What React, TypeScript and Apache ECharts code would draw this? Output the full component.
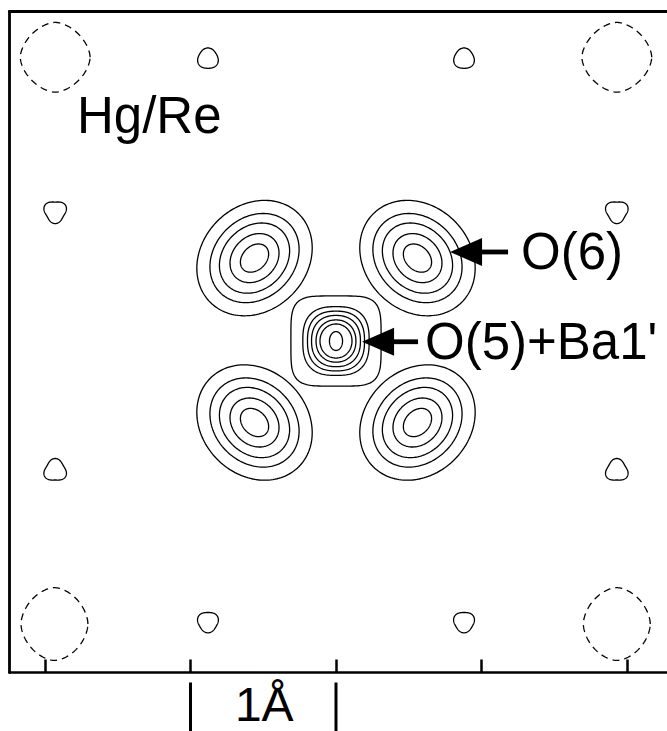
import { useEffect, useRef } from 'react';
import * as echarts from 'echarts';

// ---- axes (Å) ----
const xExtent = [-2.244, 2.275];
const yExtent = [-2.278, 2.266];
const axisTicks = [-2, -1, 0, 1, 2];
const scaleBar = [-1, 0];
const scaleBarLabel = '1Å';
const mapLabel = 'Hg/Re';

// ---- O(6) peaks: centres (Å), tilt of major axis (deg), contour half-axes (Å) ----
const o6Centers = [[-0.56, 0.57], [0.56, 0.57], [-0.56, -0.56], [0.56, -0.56]];
const o6Tilt = [45, -45, -45, 45];
const o6Major = [0.43, 0.335, 0.265, 0.185, 0.11];
const o6Minor = [0.36, 0.275, 0.215, 0.15, 0.082];

// ---- O(5)+Ba1' peak ----
const o5Center = [0, 0];
const o5RadiusX = [0.31, 0.228, 0.196, 0.168, 0.137, 0.11, 0.045];
const o5RadiusY = [0.31, 0.236, 0.205, 0.176, 0.145, 0.117, 0.065];
const o5Squareness = [4.5, 2.7, 2.5, 2.3, 2.15, 2.05, 2];

// ---- weak positive peaks ----
const weakCenters = [[-0.88, 1.94], [0.88, 1.94], [-1.93, 0.89], [1.93, 0.89], [-1.93, -0.89], [1.93, -0.89], [-0.88, -1.93], [0.88, -1.93]];
const weakRadius = [0.07, 0.07, 0.074, 0.074, 0.074, 0.074, 0.07, 0.07];
const weakLobe = [0.06, 0.06, 0.12, 0.12, 0.12, 0.12, 0.08, 0.08];
const weakPoint = [90, 90, -90, -90, 90, 90, -90, -90];

// ---- negative (dashed) contours ----
const negCenters = [[-1.93, 1.95], [1.93, 1.95], [-1.935, -1.945], [1.93, -1.945]];
const negRadiusX = [0.24, 0.24, 0.23, 0.23];
const negRadiusY = [0.24, 0.24, 0.25, 0.25];
const negSquareness = [1.7, 1.7, 1.75, 1.75];

// ---- labelled arrows: tip (Å) ----
const arrowTips = [[0.784, 0.612], [0.179, -0.005]];
const arrowLabels = ['O(6)', "O(5)+Ba1'"];

const FONT = "'Liberation Sans', Arial, Helvetica, sans-serif";

// contour item: [cx, cy, rx, ry, rotDeg, squareness, lobeK, lobeDeg, dashed]
function buildContours() {
  const out: number[][] = [];
  o6Centers.forEach((c, i) => {
    o6Major.forEach((a, j) => {
      out.push([c[0], c[1], a, o6Minor[j], o6Tilt[i], 2, 0, 0, 0]);
    });
  });
  o5RadiusX.forEach((rx, j) => {
    out.push([o5Center[0], o5Center[1], rx, o5RadiusY[j], 0, o5Squareness[j], 0, 0, 0]);
  });
  weakCenters.forEach((c, i) => {
    out.push([c[0], c[1], weakRadius[i], weakRadius[i], 0, 2, weakLobe[i], weakPoint[i], 0]);
  });
  negCenters.forEach((c, i) => {
    out.push([c[0], c[1], negRadiusX[i], negRadiusY[i], 0, negSquareness[i], 0, 0, 1]);
  });
  return out;
}

export default function App() {
  const ref = useRef<HTMLDivElement>(null);
  useEffect(() => {
    if (!ref.current) return;
    const chart = echarts.init(ref.current, null, { renderer: 'svg' });
    const contours = buildContours();
    const arrowOffsets = [
      { tail: 58, text: 71 },
      { tail: 56, text: 63 },
    ];
    chart.setOption({
      animation: false,
      backgroundColor: '#fff',
      grid: { left: 9.5, top: 11.3, right: 0, bottom: 58.5, outerBoundsMode: 'none', containLabel: false },
      xAxis: [
        {
          type: 'value', min: xExtent[0], max: xExtent[1], position: 'bottom',
          axisLine: { show: true, onZero: false, lineStyle: { color: '#000', width: 2.5 } },
          axisTick: { show: true, inside: true, length: 13, customValues: axisTicks, lineStyle: { color: '#000', width: 2.5 } },
          axisLabel: { show: false },
          splitLine: { show: false },
        },
        {
          type: 'value', min: xExtent[0], max: xExtent[1], position: 'top',
          axisLine: { show: true, onZero: false, lineStyle: { color: '#000', width: 2.8 } },
          axisTick: { show: false }, axisLabel: { show: false }, splitLine: { show: false },
        },
      ],
      yAxis: {
        type: 'value', min: yExtent[0], max: yExtent[1], position: 'left',
        axisLine: { show: true, onZero: false, lineStyle: { color: '#000', width: 2.8 } },
        axisTick: { show: false }, axisLabel: { show: false }, splitLine: { show: false },
      },
      graphic: [
        {
          type: 'text', left: 77, top: 118 - 28,
          style: { text: mapLabel, font: `51px ${FONT}`, fill: '#000' },
          silent: true,
        },
      ],
      series: [
        {
          type: 'custom',
          coordinateSystem: 'cartesian2d',
          xAxisIndex: 0, yAxisIndex: 0,
          silent: true,
          clip: false,
          encode: { x: 0, y: 1 },
          data: contours,
          renderItem: (params: any, api: any) => {
            const cx = api.value(0), cy = api.value(1);
            const rx = api.value(2), ry = api.value(3);
            const rot = (api.value(4) * Math.PI) / 180;
            const n = api.value(5);
            const k = api.value(6);
            const lobe = (api.value(7) * Math.PI) / 180;
            const dashed = api.value(8) > 0;
            const N = 160;
            const pts: number[][] = [];
            const cr = Math.cos(rot), sr = Math.sin(rot);
            const e = 2 / n;
            for (let i = 0; i < N; i++) {
              const t = (i / N) * Math.PI * 2;
              const c = Math.cos(t), s = Math.sin(t);
              let px = rx * Math.sign(c) * Math.pow(Math.abs(c), e);
              let py = ry * Math.sign(s) * Math.pow(Math.abs(s), e);
              const f = 1 + k * Math.cos(3 * (t - lobe));
              px *= f; py *= f;
              const xr = px * cr - py * sr + cx;
              const yr = px * sr + py * cr + cy;
              pts.push(api.coord([xr, yr]));
            }
            return {
              type: 'polygon',
              shape: { points: pts },
              style: {
                fill: 'none', stroke: '#000', lineWidth: 1.3,
                lineDash: dashed ? [7, 5] : null,
              },
              silent: true,
            };
          },
          z: 2,
        },
        {
          type: 'custom',
          coordinateSystem: 'cartesian2d',
          silent: true,
          clip: false,
          encode: { x: 0, y: 1 },
          data: arrowTips.map((t, i) => [t[0], t[1], i]),
          renderItem: (params: any, api: any) => {
            const p = api.coord([api.value(0), api.value(1)]);
            const idx = api.value(2);
            const off = arrowOffsets[idx];
            const headL = 32, headH = 14;
            return {
              type: 'group',
              children: [
                {
                  type: 'polygon',
                  shape: { points: [[p[0], p[1]], [p[0] + headL, p[1] - headH], [p[0] + headL, p[1] + headH]] },
                  style: { fill: '#000' },
                },
                {
                  type: 'rect',
                  shape: { x: p[0] + headL - 2, y: p[1] - 2.4, width: off.tail - headL + 2, height: 4.8 },
                  style: { fill: '#000' },
                },
                {
                  type: 'text',
                  x: p[0] + off.text,
                  y: p[1],
                  style: {
                    text: arrowLabels[idx], font: `51px ${FONT}`, fill: '#000',
                    verticalAlign: 'middle', align: 'left',
                  },
                },
              ],
            };
          },
          z: 3,
        },
        {
          type: 'custom',
          coordinateSystem: 'cartesian2d',
          silent: true,
          clip: false,
          encode: { x: [0, 1] },
          data: [[scaleBar[0], scaleBar[1]]],
          renderItem: (params: any, api: any) => {
            const a = api.coord([api.value(0), yExtent[0]]);
            const b = api.coord([api.value(1), yExtent[0]]);
            const y0 = a[1] + 10;
            const y1 = a[1] + 62;
            return {
              type: 'group',
              children: [
                { type: 'line', shape: { x1: a[0], y1: y0, x2: a[0], y2: y1 }, style: { stroke: '#000', lineWidth: 3 } },
                { type: 'line', shape: { x1: b[0], y1: y0, x2: b[0], y2: y1 }, style: { stroke: '#000', lineWidth: 3 } },
                {
                  type: 'text', x: (a[0] + b[0]) / 2 + 1, y: a[1] + 32,
                  style: { text: scaleBarLabel, font: `48px ${FONT}`, fill: '#000', align: 'center', verticalAlign: 'middle' },
                },
              ],
            };
          },
          z: 3,
        },
      ],
    });
    return () => chart.dispose();
  }, []);
  return <div ref={ref} style={{ position: 'fixed', left: 0, top: 0, width: 667, height: 731, background: '#fff' }} />;
}
